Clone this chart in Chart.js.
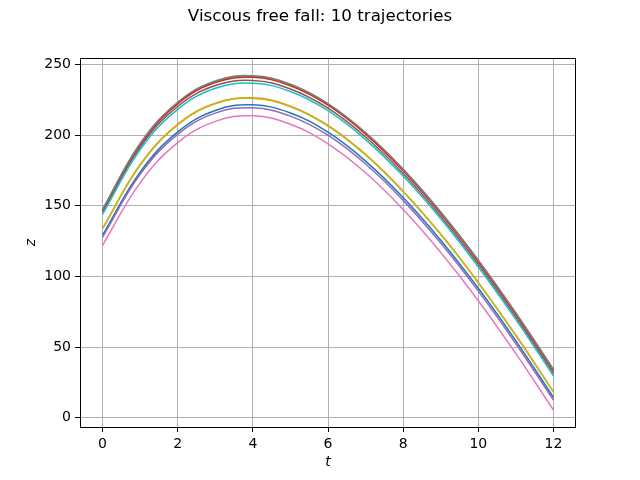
<!DOCTYPE html>
<html>
<head>
<meta charset="utf-8">
<title>Viscous free fall: 10 trajectories</title>
<script src="https://cdn.jsdelivr.net/npm/chart.js@4.4.1/dist/chart.umd.min.js"></script>
<style>
  html, body { margin: 0; padding: 0; background: #fff; }
  canvas { display: block; }
</style>
</head>
<body>
<canvas id="fallChart" width="640" height="480"></canvas>
<script>
/* ── Data ── */
const tValues = [0, 1, 2, 3, 4, 5, 6, 7, 8, 9, 10, 11, 12];

const zBlue   = [129.2, 173.7, 202.2, 217.4, 221.4, 215.6, 202.0, 181.6, 155.8, 125.6, 91.6, 54.4, 14.5];
const zOrange = [134.0, 179.0, 207.5, 222.5, 226.3, 220.4, 206.8, 186.3, 160.3, 130.0, 95.8, 58.4, 18.5];
const zGreen  = [147.1, 193.6, 222.8, 237.9, 241.6, 235.6, 221.9, 201.4, 175.5, 145.2, 111.1, 73.8, 33.9];
const zRed    = [146.5, 192.9, 222.1, 237.1, 240.8, 234.8, 221.1, 200.7, 174.8, 144.5, 110.5, 73.2, 33.3];
const zPurple = [127.7, 172.2, 200.5, 215.5, 219.3, 213.4, 199.9, 179.5, 153.8, 123.6, 89.6, 52.4, 12.6];
const zBrown  = [145.5, 191.4, 220.2, 235.0, 238.6, 232.6, 219.0, 198.6, 172.8, 142.6, 108.6, 71.3, 31.5];
const zPink   = [122.0, 166.2, 194.6, 209.7, 213.6, 207.6, 193.8, 173.3, 147.3, 116.9, 82.8, 45.4, 5.5];
const zGray   = [147.5, 194.0, 223.2, 238.3, 242.0, 236.0, 222.3, 201.8, 175.9, 145.6, 111.5, 74.2, 34.3];
const zOlive  = [133.6, 178.6, 207.1, 222.1, 225.9, 220.0, 206.4, 185.9, 159.9, 129.6, 95.4, 58.0, 18.1];
const zCyan   = [143.9, 189.5, 218.2, 233.1, 236.7, 230.8, 217.2, 196.8, 171.0, 140.8, 106.7, 69.5, 29.6];

const xTicks = [0, 2, 4, 6, 8, 10, 12];
const yTicks = [0, 50, 100, 150, 200, 250];

const series = [zBlue, zOrange, zGreen, zRed, zPurple, zBrown, zPink, zGray, zOlive, zCyan];
const colors = ['#1f77b4', '#ff7f0e', '#2ca02c', '#d62728', '#9467bd',
                '#8c564b', '#e377c2', '#7f7f7f', '#bcbd22', '#17becf'];

/* ── Title, axis labels and box ── */
const framePlugin = {
  id: 'frame',
  afterDraw(chart) {
    const { ctx, chartArea: a } = chart;
    ctx.save();
    ctx.strokeStyle = '#000';
    ctx.lineWidth = 1;
    ctx.strokeRect(a.left + 0.5, a.top + 0.5, a.right - a.left - 1, a.bottom - a.top);

    ctx.fillStyle = '#000';
    ctx.textAlign = 'center';
    ctx.textBaseline = 'middle';
    ctx.font = '16.7px "DejaVu Sans"';
    ctx.fillText('Viscous free fall: 10 trajectories', 320, 17);

    ctx.font = 'italic 14px "DejaVu Sans"';
    ctx.fillText('t', (a.left + a.right) / 2, 462);

    ctx.translate(31, (a.top + a.bottom) / 2);
    ctx.rotate(-Math.PI / 2);
    ctx.fillText('z', 0, 0);
    ctx.restore();
  }
};

/* ── Chart ── */
Chart.defaults.font.family = "'DejaVu Sans', sans-serif";
Chart.defaults.font.size = 14;
Chart.defaults.color = '#000';

const axisCommon = {
  grid: { color: '#b0b0b0', lineWidth: 1, tickColor: '#000', tickLength: 5, tickWidth: 1 },
  border: { display: false },
  ticks: { color: '#000', padding: 4, font: { size: 14 } }
};

new Chart(document.getElementById('fallChart'), {
  type: 'line',
  data: {
    datasets: series.map((vals, i) => ({
      label: 'trajectory ' + (i + 1),
      data: tValues.map((t, k) => ({ x: t, y: vals[k] })),
      borderColor: colors[i],
      backgroundColor: colors[i],
      borderWidth: 1.5,
      pointRadius: 0,
      fill: false,
      tension: 0.4,
      order: -i
    }))
  },
  options: {
    responsive: false,
    animation: false,
    devicePixelRatio: 1,
    layout: { padding: { left: 0, top: 58, right: 64, bottom: 0 } },
    plugins: { legend: { display: false }, tooltip: { enabled: false } },
    scales: {
      x: {
        ...axisCommon,
        type: 'linear',
        min: -0.6,
        max: 12.6,
        afterBuildTicks: s => { s.ticks = xTicks.map(v => ({ value: v })); },
        afterFit: s => { s.height = 53; }
      },
      y: {
        ...axisCommon,
        type: 'linear',
        min: -6.5,
        max: 254.5,
        afterBuildTicks: s => { s.ticks = yTicks.map(v => ({ value: v })); },
        afterFit: s => { s.width = 80; }
      }
    }
  },
  plugins: [framePlugin]
});
</script>
</body>
</html>
